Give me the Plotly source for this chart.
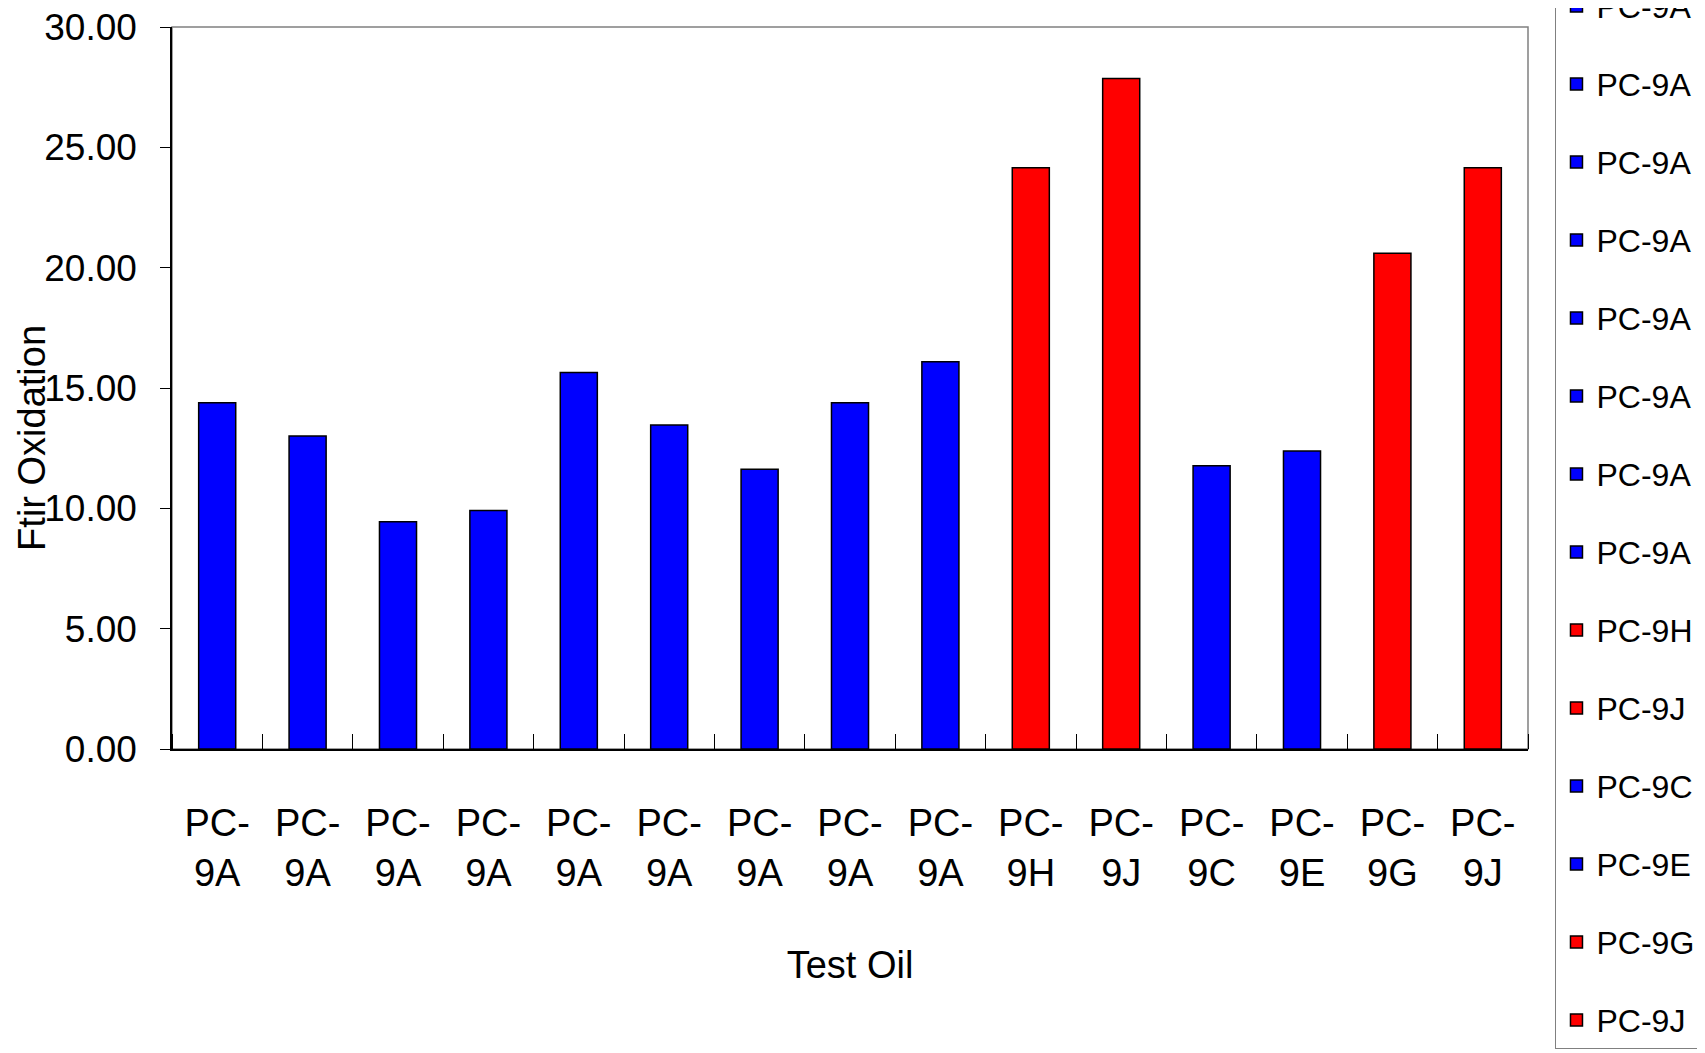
import plotly.graph_objects as go

# ---- data ----
test_oils = ["PC-9A", "PC-9A", "PC-9A", "PC-9A", "PC-9A", "PC-9A", "PC-9A", "PC-9A", "PC-9A",
             "PC-9H", "PC-9J", "PC-9C", "PC-9E", "PC-9G", "PC-9J"]
tick_labels = ["PC-<br>9A", "PC-<br>9A", "PC-<br>9A", "PC-<br>9A", "PC-<br>9A", "PC-<br>9A",
               "PC-<br>9A", "PC-<br>9A", "PC-<br>9A", "PC-<br>9H", "PC-<br>9J", "PC-<br>9C",
               "PC-<br>9E", "PC-<br>9G", "PC-<br>9J"]
ftir_oxidation = [14.39, 13.01, 9.44, 9.91, 15.64, 13.46, 11.62, 14.39, 16.09,
                  24.15, 27.86, 11.77, 12.38, 20.60, 24.15]
y_ticks = [0, 5, 10, 15, 20, 25, 30]

oil_colors = {"PC-9A": "#0000FF", "PC-9C": "#0000FF", "PC-9E": "#0000FF",
              "PC-9H": "#FF0000", "PC-9J": "#FF0000", "PC-9G": "#FF0000"}

FONT = "Liberation Sans, Arial, Helvetica, sans-serif"

positions = list(range(len(test_oils)))

fig = go.Figure()
for pos, oil, val in zip(positions, test_oils, ftir_oxidation):
    fig.add_trace(go.Bar(
        x=[pos], y=[val], name=oil, legendgroup=f"g{pos}",
        width=0.41,
        marker=dict(color=oil_colors[oil], line=dict(color="black", width=1.5)),
    ))

# page has an 8px body margin, so the figure's own coordinates are shifted by it
W, H = 1705, 1053
ml, mr, mt, mb = 164, 185, 19, 312

fig.update_layout(
    width=W, height=H,
    margin=dict(l=ml, r=mr, t=mt, b=mb, autoexpand=False),
    paper_bgcolor="white", plot_bgcolor="white",
    barmode="overlay",
    font=dict(family=FONT, size=38, color="black"),
    showlegend=True,
    legend=dict(
        x=1.0199, xanchor="left", y=1.177, yanchor="top",
        bgcolor="white", bordercolor="#808080", borderwidth=1.5,
        font=dict(family=FONT, size=32, color="black"),
        tracegroupgap=33.4, maxheight=1400,
    ),
    xaxis=dict(
        range=[-0.5, len(test_oils) - 0.5],
        tickmode="array", tickvals=positions, ticktext=tick_labels,
        ticks="", showline=True, linecolor="black", linewidth=1.5,
        showgrid=False, zeroline=False,
        ticklabelstandoff=40,
        tickfont=dict(family=FONT, size=38),
        minor=dict(tickmode="linear", tick0=-0.5, dtick=1, ticks="inside",
                   ticklen=15, tickcolor="black", tickwidth=1),
        title=dict(text="Test Oil", font=dict(family=FONT, size=38), standoff=59),
    ),
    yaxis=dict(
        range=[0, 30], tickmode="array", tickvals=y_ticks, tickformat=".2f",
        ticks="outside", ticklen=10, tickcolor="black", tickwidth=1,
        showline=True, linecolor="black", linewidth=1.5,
        showgrid=False, zeroline=False,
        ticklabelstandoff=16, ticklabeloverflow="allow",
        tickfont=dict(family=FONT, size=37),
    ),
    shapes=[dict(type="rect", xref="paper", yref="paper", x0=0, x1=1, y0=0, y1=1,
                 line=dict(color="#808080", width=1.5), layer="below")],
    annotations=[dict(text="Ftir Oxidation", xref="paper", yref="paper",
                      x=-0.1032, y=0.431, xanchor="center", yanchor="middle",
                      textangle=-90, showarrow=False,
                      font=dict(family=FONT, size=38, color="black"))],
)

fig.write_html("out.html")
